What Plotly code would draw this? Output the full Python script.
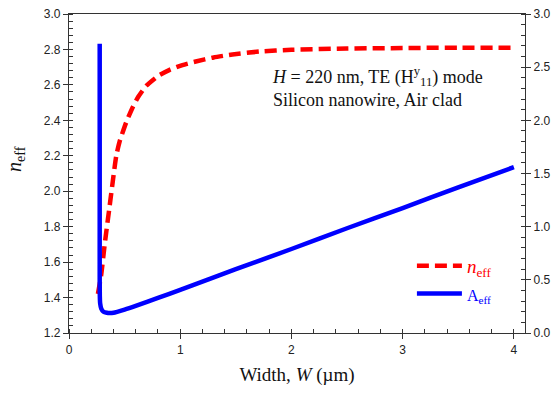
import plotly.graph_objects as go

# n_eff (left axis)
W_n = [0.26, 0.29, 0.32, 0.335, 0.365, 0.425, 0.455, 0.515, 0.57, 0.62, 0.695, 0.8, 0.905, 1.02, 1.14, 1.3, 1.47, 1.71, 2.0, 2.5, 3.0, 3.5, 4.0]
n_eff = [1.42, 1.53, 1.695, 1.77, 1.915, 2.20, 2.28, 2.39, 2.47, 2.53, 2.595, 2.65, 2.685, 2.712, 2.732, 2.755, 2.772, 2.788, 2.798, 2.805, 2.808, 2.81, 2.81]

# A_eff (right axis)
W_a = [0.276, 0.276, 0.276, 0.277, 0.28, 0.29, 0.31, 0.34, 0.365, 0.4, 0.5, 0.6, 0.8, 1.0, 1.5, 2.0, 2.5, 3.0, 3.5, 4.0]
A_eff = [2.72, 1.0, 0.5, 0.35, 0.28, 0.23, 0.2, 0.19, 0.187, 0.19, 0.22, 0.255, 0.33, 0.405, 0.6, 0.79, 0.985, 1.175, 1.37, 1.56]

x_ticks = [0, 1, 2, 3, 4]

fig = go.Figure()
fig.add_trace(go.Scatter(x=W_n, y=n_eff, mode="lines", name='<span style="color:#ff0000"><i>n</i><sub>eff</sub></span>',
                         line=dict(color="#ff0000", width=4.5, dash="12px,6px", shape="spline", smoothing=0.5)))
fig.add_trace(go.Scatter(x=W_a, y=A_eff, mode="lines", name='<span style="color:#0000ff;font-size:16px">A<sub>eff</sub></span>',
                         line=dict(color="#0000ff", width=4.5, shape="spline", smoothing=0.5), yaxis="y2"))

axis_common = dict(showline=True, linecolor="#333", linewidth=1.2, showgrid=False, zeroline=False,
                   tickfont=dict(family="Liberation Sans, Arial", size=12, color="#222"),
                   ticks="outside", ticklen=5, tickcolor="#333", tickwidth=1)

fig.update_layout(
    width=558, height=403,
    margin=dict(l=69, r=32, t=7, b=70),
    plot_bgcolor="white", paper_bgcolor="white",
    xaxis=dict(range=[0, 4.1], tickvals=x_ticks, mirror=True,
               minor=dict(dtick=0.2, ticks="inside", ticklen=4, tickcolor="#333"),
               title=dict(text="Width, <i>W</i> (µm)", font=dict(family="Liberation Serif, Times New Roman", size=19, color="#111"), standoff=12),
               **axis_common),
    yaxis=dict(range=[1.2, 3.0], dtick=0.2, tickformat=".1f",
               minor=dict(dtick=0.04, ticks="inside", ticklen=4, tickcolor="#333"),
               **axis_common),
    yaxis2=dict(range=[0, 3.0], dtick=0.5, tickformat=".1f", overlaying="y", side="right",
                minor=dict(dtick=0.1, ticks="inside", ticklen=4, tickcolor="#333"),
                **axis_common),
    showlegend=True,
    legend=dict(x=0.752, y=0.27, xanchor="left", yanchor="top", bgcolor="rgba(0,0,0,0)", itemwidth=45,
                font=dict(family="Liberation Serif, Times New Roman", size=19), tracegroupgap=4),
    annotations=[
        dict(text="<i>n</i><sub>eff</sub>", xref="paper", yref="paper", x=-0.116, y=0.546, textangle=-90,
             xanchor="center", yanchor="middle",
             showarrow=False, font=dict(family="Liberation Serif, Times New Roman", size=20, color="#111")),
        dict(text="<i>H</i> = 220 nm, TE (H<sup>y</sup><sub>11</sub>) mode<br>Silicon nanowire, Air clad",
             xref="paper", yref="paper", x=0.44, y=0.85, xanchor="left", yanchor="top", align="left",
             showarrow=False, font=dict(family="Liberation Serif, Times New Roman", size=18, color="#111")),
    ],
)

fig.write_html("out.html")
